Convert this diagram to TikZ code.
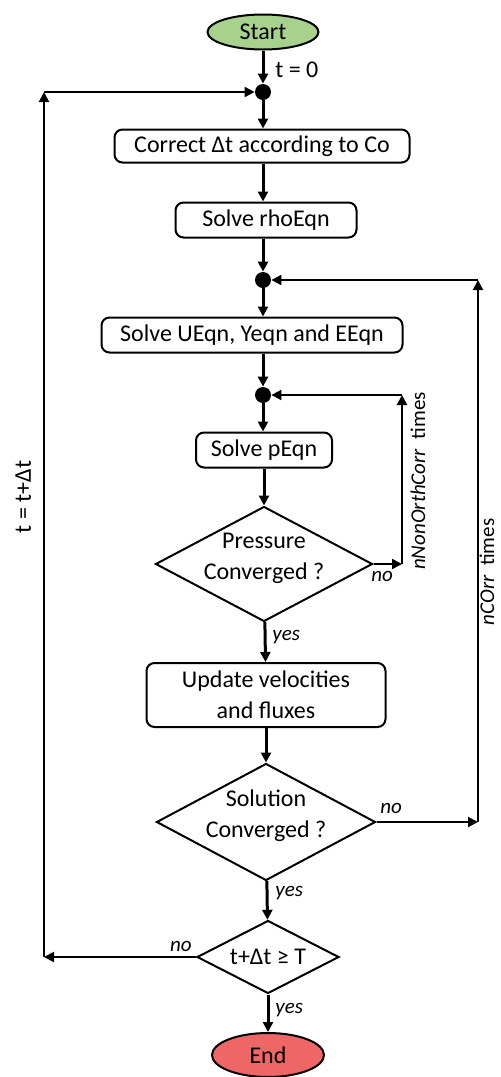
\documentclass[tikz,border=0pt]{standalone}
\usepackage{fontspec}
\setmainfont{Carlito}
\usetikzlibrary{shapes.geometric,arrows.meta}
\definecolor{startgreen}{RGB}{169,209,142}
\definecolor{endred}{RGB}{238,102,102}
\begin{document}
\begin{tikzpicture}[x=0.5pt,y=-0.5pt,
    font=\fontsize{12}{15.5}\selectfont,
    boxnode/.style={draw, line width=1pt, rounded corners=4pt, inner sep=0pt, align=center},
    decnode/.style={draw, diamond, line width=1pt, inner sep=0pt},
    termnode/.style={draw, ellipse, line width=1pt, inner sep=0pt},
    joint/.style={circle, fill=black, inner sep=0pt, minimum size=8pt},
    flow/.style={line width=1.5pt, -{Triangle[length=5pt,width=5pt]}},
    loopline/.style={line width=1pt, -{Triangle[length=5pt,width=5pt]}},
    lbl/.style={font=\fontsize{10.5}{12}\selectfont\itshape, inner sep=0pt},
    rotlbl/.style={font=\fontsize{10.5}{12}\selectfont, inner sep=0pt, rotate=90, anchor=base}]
    \useasboundingbox (0,0) rectangle (500,1077);
    % 開始・終了
    \node[termnode, fill=startgreen, minimum width=55.5pt, minimum height=17.5pt] (start) at (263,32) {Start};
    \node[termnode, fill=endred, minimum width=56pt, minimum height=22pt] (end) at (268,1055) {End};
    % 合流点
    \node[joint] (j1) at (263,92) {};
    \node[joint] (j2) at (263,280) {};
    \node[joint] (j3) at (263,395) {};
    % 処理ボックス
    \node[boxnode, minimum width=147.5pt, minimum height=16.5pt] (corr) at (262,146) {Correct Δt according to Co};
    \node[boxnode, minimum width=90.5pt, minimum height=17.5pt] (rho) at (266,220) {Solve rhoEqn};
    \node[boxnode, minimum width=150.5pt, minimum height=17.5pt] (ueqn) at (252,335) {Solve UEqn, Yeqn and EEqn};
    \node[boxnode, minimum width=68pt, minimum height=17.5pt] (peqn) at (264,450) {Solve pEqn};
    \node[boxnode, minimum width=119.5pt, minimum height=32pt] (upd) at (266,695) {Update velocities\\and fluxes};
    % 判定（ひし形）— 文字は中央のラベルで
    \node[decnode, minimum width=108.5pt, minimum height=57.5pt,
        label={[align=center, yshift=3pt]center:Pressure\\Converged ?}] (pconv) at (264,564) {};
    \node[decnode, minimum width=109.5pt, minimum height=58.5pt,
        label={[align=center, yshift=3pt]center:Solution\\Converged ?}] (sconv) at (266,822) {};
    \node[decnode, minimum width=71pt, minimum height=36.5pt,
        label={center:t+Δt ≥ T}] (tcheck) at (268,957) {};
    % 主な流れ
    \draw[flow] (start) -- (start |- j1.north);
    \draw[flow] (j1) -- (j1 |- corr.north);
    \draw[flow] (j1 |- corr.south) -- (j1 |- rho.north);
    \draw[flow] (j2 |- rho.south) -- (j2);
    \draw[flow] (j2) -- (j2 |- ueqn.north);
    \draw[flow] (j3 |- ueqn.south) -- (j3);
    \draw[flow] (j3) -- (j3 |- peqn.north);
    \draw[flow] (peqn) -- (pconv);
    \draw[flow] (pconv) -- (upd);
    \draw[flow] (upd) -- (sconv);
    \draw[flow] (sconv) -- (tcheck);
    \draw[flow] (tcheck) -- (end);
    % 戻りループ（左：時間ステップ）
    \coordinate (lb) at (44,957);
    \coordinate (lt) at (lb |- j1);
    \draw[loopline] (tcheck.west) -- (lb);
    \draw[loopline] (lb) -- (lt);
    \draw[loopline] (lt) -- (j1);
    % 戻りループ（右：nNonOrthCorr）
    \coordinate (r1b) at (402,564);
    \coordinate (r1t) at (r1b |- j3);
    \draw[loopline] (pconv.east) -- (r1b);
    \draw[loopline] (r1b) -- (r1t);
    \draw[loopline] (r1t) -- (j3);
    % 戻りループ（右：nCorr）
    \coordinate (r2b) at (478,822);
    \coordinate (r2t) at (r2b |- j2);
    \draw[loopline] (sconv.east) -- (r2b);
    \draw[loopline] (r2b) -- (r2t);
    \draw[loopline] (r2t) -- (j2);
    % ラベル
    \node[anchor=west, inner sep=0pt] (t0) at (275,70) {t = 0};
    \node[rotlbl, font=\fontsize{12}{14}\selectfont] (tdt) at (31,497) {t = t+Δt};
    \node[rotlbl] (nnoc) at (425,481) {\textit{nNonOrthCorr}\ \ times};
    \node[rotlbl] (ncorr) at (494,572) {\textit{nCOrr}\ \ times};
    \node[lbl, anchor=west] (pno) at (371,576) {no};
    \node[lbl, anchor=west] (pyes) at (272,637) {yes};
    \node[lbl, anchor=west] (sno) at (380,808) {no};
    \node[lbl, anchor=west] (syes) at (275,893) {yes};
    \node[lbl, anchor=east] (tno) at (192,946) {no};
    \node[lbl, anchor=west] (tyes) at (275,1010) {yes};
\end{tikzpicture}
\end{document}
